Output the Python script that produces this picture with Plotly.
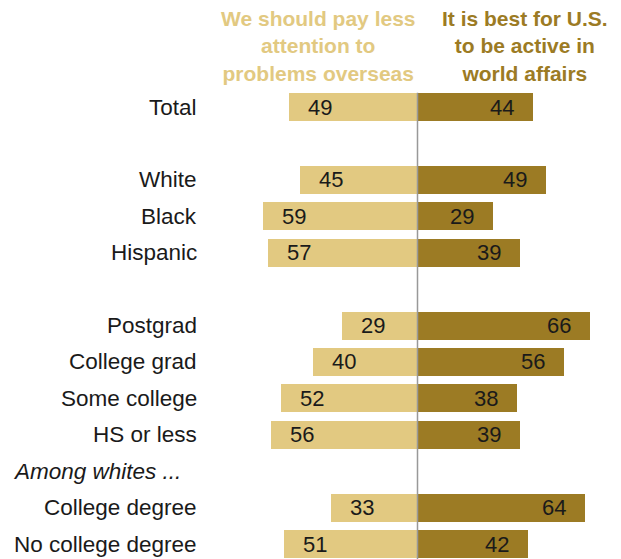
import plotly.graph_objects as go

# ---- data ----
categories = ["Total", "White", "Black", "Hispanic", "Postgrad", "College grad",
              "Some college", "HS or less", "College degree", "No college degree"]
less_attention = [49, 45, 59, 57, 29, 40, 52, 56, 33, 51]
be_active = [44, 49, 29, 39, 66, 56, 38, 39, 64, 42]
left_header = "We should pay less<br>attention to<br>problems overseas"
right_header = "It is best for U.S.<br>to be active in<br>world affairs"
subheader = "Among whites ..."

# row layout: blank row after Total and after Hispanic, subheader before College degree
rows = []
r = 0
for i, c in enumerate(categories):
    if c in ("White", "Postgrad"):
        r += 1
    if c == "College degree":
        r += 1
    rows.append(r)
    r += 1
sub_row = rows[categories.index("College degree")] - 1

LIGHT = "#E2C981"
DARK = "#9C7B24"
FONT = "Liberation Sans, Arial, sans-serif"

W, H = 621, 559
cx = 417.5
ppu = 2.62
row0, rstep = 107, 36.42

fig = go.Figure()
fig.add_trace(go.Bar(y=rows, x=[-v for v in less_attention], orientation="h",
                     marker=dict(color=LIGHT, line=dict(width=0)), width=0.77,
                     hoverinfo="skip", showlegend=False))
fig.add_trace(go.Bar(y=rows, x=be_active, orientation="h",
                     marker=dict(color=DARK, line=dict(width=0)), width=0.77,
                     hoverinfo="skip", showlegend=False))

ann = []
for c, rr, lv, rv in zip(categories, rows, less_attention, be_active):
    ann.append(dict(x=199 / W, xref="paper", y=rr, yref="y", text=c, showarrow=False,
                    xanchor="right", yanchor="middle",
                    font=dict(family=FONT, size=22.5, color="#1a1a1a")))
    ann.append(dict(x=-lv, xref="x", y=rr, yref="y", text=str(lv), showarrow=False,
                    xanchor="center", yanchor="middle", xshift=31,
                    font=dict(family=FONT, size=22, color="#1a1a1a")))
    ann.append(dict(x=rv, xref="x", y=rr, yref="y", text=str(rv), showarrow=False,
                    xanchor="center", yanchor="middle", xshift=-31,
                    font=dict(family=FONT, size=22, color="#1a1a1a")))
ann.append(dict(x=11 / W, xref="paper", y=sub_row, yref="y", text="<i>" + subheader + "</i>",
                showarrow=False, xanchor="left", yanchor="middle",
                font=dict(family=FONT, size=22.5, color="#1a1a1a")))
ann.append(dict(x=319 / W, xref="paper", y=1 - 45.5 / H, yref="paper", text="<b>" + left_header + "</b>",
                showarrow=False, xanchor="center", yanchor="middle", align="center",
                font=dict(family=FONT, size=21, color=LIGHT)))
ann.append(dict(x=525 / W, xref="paper", y=1 - 45.5 / H, yref="paper", text="<b>" + right_header + "</b>",
                showarrow=False, xanchor="center", yanchor="middle", align="center",
                font=dict(family=FONT, size=21, color=DARK)))

ytop = -row0 / rstep
ybot = (H - row0) / rstep
fig.update_layout(
    width=W, height=H, margin=dict(l=0, r=0, t=0, b=0, pad=0),
    paper_bgcolor="white", plot_bgcolor="white",
    barmode="relative", bargap=0,
    xaxis=dict(range=[-cx / ppu, (W - cx) / ppu], visible=False, fixedrange=True),
    yaxis=dict(range=[ybot, ytop], visible=False, fixedrange=True),
    annotations=ann,
    shapes=[dict(type="line", xref="x", yref="y", x0=0, x1=0, y0=-0.39, y1=ybot,
                 line=dict(color="#999999", width=1.5), layer="above")],
)
fig.write_html("out.html")
